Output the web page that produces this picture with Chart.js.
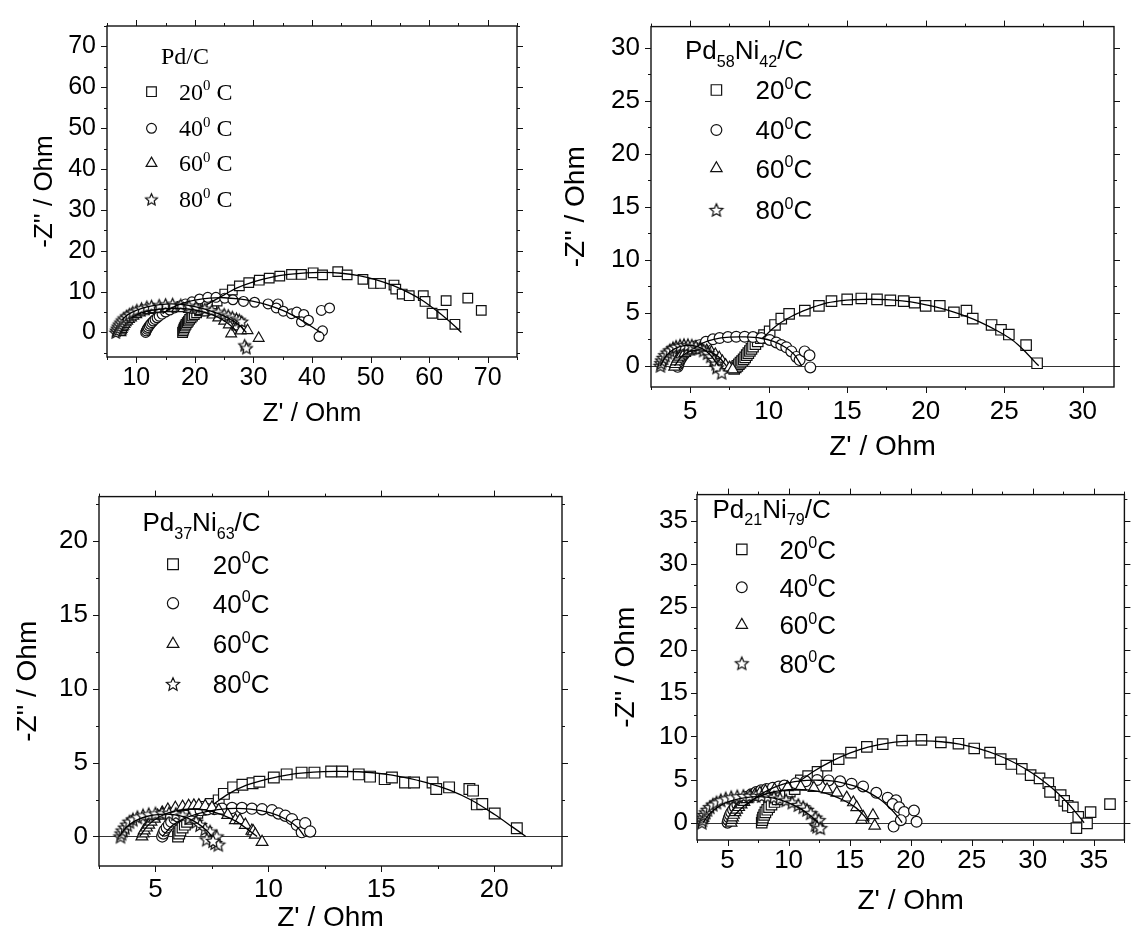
<!DOCTYPE html>
<html>
<head>
<meta charset="utf-8">
<script src="https://cdn.jsdelivr.net/npm/chart.js@4.4.1/dist/chart.umd.min.js"></script>
<style>
  body { margin: 0; background: #fff; width: 1131px; height: 938px; position: relative; overflow: hidden; }
  .panel { position: absolute; }
</style>
</head>
<body>
<div class="panel" style="left:0;top:0"><canvas id="c1" width="540" height="440"></canvas></div>
<div class="panel" style="left:540px;top:0"><canvas id="c2" width="591" height="470"></canvas></div>
<div class="panel" style="left:0;top:470px"><canvas id="c3" width="580" height="468"></canvas></div>
<div class="panel" style="left:570px;top:470px"><canvas id="c4" width="563" height="468"></canvas></div>
<script>
// legend texts
const tempLabels = ['20', '40', '60', '80'];
const xTitle = "Z' / Ohm";
const yTitle = "-Z'' / Ohm";

// tick labels (majors) per panel
const p1XTicks = [10, 20, 30, 40, 50, 60, 70];
const p1YTicks = [0, 10, 20, 30, 40, 50, 60, 70];
const p2XTicks = [5, 10, 15, 20, 25, 30];
const p2YTicks = [0, 5, 10, 15, 20, 25, 30];
const p3XTicks = [5, 10, 15, 20];
const p3YTicks = [0, 5, 10, 15, 20];
const p4XTicks = [5, 10, 15, 20, 25, 30, 35];
const p4YTicks = [0, 5, 10, 15, 20, 25, 30, 35];

// ---- Pd/C ----
const pdC_20 = [[17.9,0],[18.0,0.4],[18.1,0.8],[18.2,1.2],[18.35,1.6],[18.5,2.0],[18.7,2.4],[18.9,2.8],[19.1,3.2],[19.35,3.6],[19.6,4.0],[19.9,4.4],[20.3,4.8],[20.8,5.3],[21.4,5.8],[22.1,6.4],[22.9,7.0],[23.8,7.7],[25.1,9.4],[26.4,10.4],[27.6,11.4],[29.2,12.2],[31.0,12.8],[32.7,13.3],[34.5,13.8],[36.5,14.2],[38.2,14.2],[40.2,14.6],[41.8,14.1],[44.4,14.9],[46.0,14.1],[48.7,13.0],[50.5,12.0],[51.7,12.0],[54.0,11.6],[54.3,10.6],[55.4,9.4],[56.6,9.0],[59.0,9.0],[59.3,7.6],[60.5,4.7],[62.3,4.4],[64.4,2.0],[62.9,7.8],[66.6,8.4],[68.9,5.4]];
const pdC_40 = [[11.6,0],[11.7,0.4],[11.85,0.8],[12.0,1.2],[12.2,1.6],[12.4,2.0],[12.65,2.4],[12.9,2.8],[13.2,3.2],[13.55,3.6],[13.9,4.0],[14.4,4.5],[15.0,5.0],[15.7,5.5],[16.5,6.0],[17.4,6.5],[18.4,7.0],[19.5,7.5],[20.8,8.2],[22.2,8.6],[23.6,8.6],[25.1,8.4],[26.5,8.0],[28.3,7.6],[30.2,7.4],[32.5,7.0],[34.2,7.0],[33.9,6.0],[35.1,5.2],[36.5,4.6],[37.4,5.0],[38.6,4.4],[38.2,2.6],[39.4,3.0],[41.8,0.4],[41.2,-1.0],[41.6,5.4],[43.0,6.0]];
const pdC_60 = [[7.3,0],[7.4,0.4],[7.5,0.8],[7.65,1.2],[7.8,1.6],[8.0,2.0],[8.2,2.4],[8.45,2.8],[8.75,3.2],[9.1,3.6],[9.5,4.0],[10.0,4.4],[10.6,4.8],[11.3,5.1],[12.1,5.4],[13.0,5.6],[14.0,5.75],[15.0,5.85],[16.0,5.9],[17.0,5.9],[18.0,5.85],[19.0,5.7],[20.0,5.5],[21.0,5.2],[22.0,4.8],[23.0,4.3],[24.0,3.6],[25.0,2.8],[25.8,1.9],[26.2,-0.3],[27.2,1.4],[27.8,0.4],[29.0,0.5],[30.9,-1.4]];
const pdC_80 = [[6.5,0],[6.6,0.5],[6.75,1.0],[6.9,1.5],[7.1,2.0],[7.35,2.5],[7.6,3.0],[7.9,3.5],[8.3,4.0],[8.8,4.5],[9.4,5.0],[10.1,5.5],[10.9,5.9],[11.8,6.3],[12.6,6.5],[13.9,6.7],[15.0,6.9],[16.2,7.0],[17.6,6.8],[19.0,6.5],[20.2,6.2],[21.7,5.8],[22.9,5.4],[24.0,5.0],[25.0,4.5],[25.7,4.2],[26.4,3.8],[27.1,3.4],[27.6,3.1],[28.0,2.7],[28.5,-3.1],[28.8,-3.8]];
const pdC_20Fit = [[22,6.8],[23,7.6],[25,9.2],[27,10.8],[30,12.4],[33,13.5],[36,14.2],[39,14.6],[42,14.7],[45,14.5],[48,13.9],[51,12.9],[54,11.4],[57,9.4],[59,7.7],[61,5.6],[63,3.3],[64.5,1.4],[65.5,0]];
const pdC_40Fit = [[14.5,4.6],[16,6.0],[18,7.2],[20,7.9],[22.5,8.4],[25,8.5],[27.5,8.2],[30,7.6],[32.5,6.7],[35,5.4],[37,4.0],[39,2.3],[40.5,0.9],[41.5,0]];
const pdC_60Fit = [[9,3.5],[10.5,4.6],[12.5,5.4],[15,5.85],[17.5,5.9],[20,5.5],[22,4.8],[24,3.7],[25.5,2.4],[26.5,1.2],[27.2,0]];
const pdC_80Fit = [[7.5,3.0],[8.5,4.3],[10,5.4],[12,6.3],[14,6.8],[16,7.0],[18,6.8],[20,6.3],[22,5.6],[24,4.6],[26,3.3],[27.5,1.9],[28.4,0.6],[28.8,0]];

// ---- Pd58Ni42/C ----
const pd58_20 = [[7.8,-0.3],[7.9,-0.15],[8.0,0],[8.1,0.15],[8.2,0.3],[8.3,0.45],[8.4,0.6],[8.5,0.8],[8.6,1.0],[8.7,1.2],[8.8,1.4],[8.9,1.6],[9.0,1.8],[9.15,2.05],[9.3,2.3],[9.5,2.6],[9.7,2.9],[10.06,3.25],[10.4,3.85],[10.8,4.45],[11.3,4.9],[12.3,5.2],[13.2,5.65],[14.0,6.1],[15.0,6.26],[15.9,6.35],[16.9,6.26],[17.75,6.17],[18.6,6.1],[19.3,5.96],[20.0,5.65],[20.9,5.65],[21.8,5.05],[22.6,5.2],[23.0,4.45],[24.2,3.85],[24.8,3.4],[25.3,2.95],[26.4,1.95],[27.1,0.24]];
const pd58_40 = [[4.2,-0.1],[4.25,0.15],[4.3,0.4],[4.4,0.65],[4.5,0.9],[4.6,1.1],[4.75,1.3],[4.9,1.5],[5.1,1.7],[5.35,1.85],[5.6,1.95],[6.0,2.26],[6.45,2.5],[6.87,2.62],[7.4,2.71],[7.93,2.74],[8.47,2.74],[9.0,2.71],[9.53,2.62],[10.06,2.44],[10.48,2.2],[10.8,1.96],[11.12,1.75],[11.44,1.36],[11.76,0.84],[11.97,0.54],[12.29,1.36],[12.6,0.99],[12.65,-0.15]];
const pd58_60 = [[4.0,-0.1],[4.05,0.15],[4.12,0.4],[4.2,0.65],[4.3,0.85],[4.45,1.05],[4.65,1.2],[4.9,1.35],[5.15,1.45],[5.45,1.5],[5.75,1.5],[6.05,1.42],[6.35,1.28],[6.6,1.05],[6.85,0.75],[7.05,0.4],[7.25,0.05],[7.5,-0.2],[7.7,-0.35]];
const pd58_80 = [[3.1,0],[3.15,0.25],[3.2,0.5],[3.3,0.75],[3.4,1.0],[3.55,1.25],[3.7,1.45],[3.9,1.65],[4.1,1.8],[4.35,1.9],[4.6,1.95],[4.85,1.95],[5.1,1.9],[5.35,1.8],[5.6,1.65],[5.85,1.45],[6.1,1.2],[6.3,0.9],[6.5,0.55],[6.65,0.2],[6.7,-0.15],[7.0,-0.65]];
const pd58_20Fit = [[9.6,2.6],[10.5,3.8],[11.5,4.7],[12.5,5.35],[13.5,5.85],[14.5,6.12],[15.5,6.25],[16.5,6.28],[17.5,6.24],[18.5,6.12],[19.5,5.92],[20.5,5.6],[21.5,5.2],[22.5,4.7],[23.5,4.1],[24.5,3.35],[25.5,2.45],[26.3,1.4],[27.0,0.3],[27.2,0]];
const pd58_40Fit = [[5.2,1.6],[5.8,2.15],[6.5,2.5],[7.5,2.7],[8.5,2.72],[9.5,2.6],[10.3,2.3],[11.0,1.8],[11.6,1.1],[12.1,0]];
const pd58_60Fit = [[4.0,0],[4.5,0.95],[5.0,1.35],[5.6,1.5],[6.2,1.35],[6.8,0.85],[7.3,0]];
const pd58_80Fit = [[3.1,0],[3.5,1.0],[4.0,1.6],[4.6,1.9],[5.2,1.9],[5.8,1.6],[6.3,1.0],[6.8,0]];

// ---- Pd37Ni63/C ----
const pd37_20 = [[6.0,0],[6.05,0.2],[6.1,0.4],[6.2,0.6],[6.3,0.8],[6.4,1.0],[6.55,1.2],[6.7,1.4],[6.85,1.6],[7.0,1.8],[7.2,2.0],[7.45,2.2],[7.8,2.44],[8.03,2.88],[8.44,3.32],[8.85,3.5],[9.3,3.6],[9.6,3.7],[10.24,3.99],[10.81,4.2],[11.47,4.32],[12.04,4.32],[12.78,4.39],[13.27,4.39],[14.0,4.2],[14.5,4.05],[15.15,3.88],[15.47,3.99],[16.05,3.65],[16.45,3.65],[17.27,3.65],[17.43,3.21],[18.0,3.32],[18.9,3.21],[19.06,3.1],[19.23,2.17],[19.47,2.19],[20.02,1.55],[21.0,0.55]];
const pd37_40 = [[5.3,0],[5.35,0.2],[5.4,0.4],[5.5,0.6],[5.6,0.8],[5.7,1.0],[5.85,1.2],[6.0,1.35],[6.2,1.5],[6.45,1.6],[6.7,1.7],[7.0,1.78],[7.3,1.84],[7.6,1.86],[7.95,1.88],[8.39,1.93],[8.83,1.93],[9.27,1.88],[9.72,1.84],[10.16,1.77],[10.45,1.55],[10.75,1.4],[11.04,1.17],[11.26,0.78],[11.48,0.29],[11.63,0.89],[11.85,0.33]];
const pd37_60 = [[4.4,0],[4.45,0.2],[4.5,0.4],[4.6,0.6],[4.7,0.8],[4.8,1.0],[4.95,1.2],[5.1,1.4],[5.3,1.6],[5.55,1.8],[5.88,1.92],[6.2,2.0],[6.47,2.06],[6.7,2.08],[6.92,2.1],[7.2,2.05],[7.5,1.95],[7.8,1.75],[8.2,1.45],[8.54,1.1],[8.74,1.1],[8.98,0.78],[9.27,0.38],[9.33,0.33],[9.42,0.11],[9.72,-0.38]];
const pd37_80 = [[3.45,0],[3.5,0.2],[3.55,0.4],[3.65,0.6],[3.75,0.8],[3.85,1.0],[4.0,1.15],[4.2,1.3],[4.45,1.42],[4.7,1.5],[5.0,1.55],[5.3,1.57],[5.6,1.57],[5.9,1.52],[6.2,1.42],[6.5,1.25],[6.8,1.0],[6.97,0.78],[7.2,0.5],[7.42,0.33],[7.27,-0.2],[7.64,-0.44],[7.71,0],[7.78,-0.55],[7.55,-0.3]];
const pd37_20Fit = [[7.6,2.2],[8.2,2.85],[9,3.45],[10,3.9],[11,4.2],[12,4.35],[13,4.4],[14,4.38],[15,4.25],[16,4.0],[17,3.65],[18,3.15],[19,2.45],[20,1.5],[20.8,0.65],[21.4,0]];
const pd37_40Fit = [[5.3,0],[5.8,0.8],[6.5,1.35],[7.3,1.7],[8.2,1.88],[9.2,1.85],[10.1,1.6],[10.8,1.15],[11.3,0.6],[11.6,0]];
const pd37_60Fit = [[4.3,0],[4.7,0.8],[5.2,1.35],[5.8,1.7],[6.5,1.85],[7.2,1.8],[7.9,1.5],[8.6,1.0],[9.1,0.45],[9.5,0]];
const pd37_80Fit = [[3.4,0],[3.7,0.6],[4.1,1.05],[4.6,1.35],[5.2,1.5],[5.8,1.48],[6.4,1.25],[6.9,0.85],[7.3,0.35],[7.5,0]];

// ---- Pd21Ni79/C ----
const pd21_20 = [[7.8,0],[7.85,0.3],[7.9,0.6],[8.0,0.9],[8.1,1.2],[8.25,1.5],[8.4,1.8],[8.6,2.1],[8.85,2.4],[9.1,2.7],[9.4,3.0],[9.75,3.3],[10.1,3.6],[10.5,3.9],[11.0,4.9],[11.6,5.4],[12.37,5.88],[13.09,6.62],[14.1,7.37],[15.11,8.11],[16.41,8.78],[17.71,9.11],[19.29,9.52],[20.88,9.6],[22.47,9.3],[23.91,9.15],[25.2,8.6],[26.5,8.11],[27.37,7.37],[28.24,6.8],[29.1,6.25],[29.82,5.51],[30.55,5.13],[31.27,4.58],[31.41,3.57],[32.28,3.2],[32.57,2.53],[32.86,1.97],[33.28,1.79],[33.72,0.67],[33.57,-0.63],[34.44,-0.07],[34.73,1.23],[36.32,2.16]];
const pd21_40 = [[5.0,0],[5.05,0.3],[5.12,0.6],[5.2,0.9],[5.3,1.2],[5.45,1.5],[5.6,1.8],[5.8,2.1],[6.05,2.4],[6.3,2.7],[6.6,3.0],[6.95,3.3],[7.35,3.55],[7.75,3.75],[8.2,3.9],[8.71,4.05],[9.2,4.2],[9.65,4.3],[10.59,4.57],[11.4,4.8],[12.34,4.95],[13.28,4.9],[14.22,4.8],[15.16,4.52],[16.1,4.2],[17.18,3.46],[18.12,2.9],[18.8,2.6],[18.52,2.16],[19.06,1.79],[19.46,1.23],[20.27,1.41],[18.6,-0.45],[19.19,0.3],[20.48,0.11]];
const pd21_60 = [[5.3,0],[5.35,0.3],[5.42,0.6],[5.5,0.9],[5.62,1.2],[5.75,1.5],[5.92,1.8],[6.12,2.1],[6.35,2.4],[6.6,2.7],[6.9,3.0],[7.25,3.25],[7.65,3.45],[8.1,3.65],[8.85,3.84],[9.92,4.1],[10.99,4.15],[12.07,4.02],[13.15,3.84],[13.95,3.46],[14.76,2.9],[15.3,2.35],[15.57,1.79],[15.97,0.3],[16.11,0.67],[16.91,0.86],[17.05,-0.35]];
const pd21_80 = [[2.9,0],[2.95,0.3],[3.02,0.6],[3.1,0.9],[3.22,1.2],[3.36,1.5],[3.55,1.8],[3.8,2.1],[4.1,2.35],[4.45,2.6],[4.85,2.8],[5.3,2.95],[5.8,3.05],[6.3,3.1],[6.8,3.12],[7.3,3.12],[7.8,3.1],[8.3,3.05],[8.8,2.95],[9.3,2.8],[9.8,2.6],[10.3,2.35],[10.8,2.05],[11.2,1.8],[11.5,1.5],[11.8,1.1],[12.2,0.6],[12.47,0.3],[12.2,-0.26],[12.33,-0.45],[12.6,-0.63]];
const pd21_20Fit = [[10.8,4.7],[12,5.9],[13.5,7.1],[15,8.05],[16.5,8.75],[18,9.2],[19.5,9.42],[21,9.47],[22.5,9.38],[24,9.1],[25.5,8.6],[27,7.9],[28.5,6.95],[30,5.7],[31.5,4.1],[32.5,2.8],[33.4,1.4],[34.2,0]];
const pd21_40Fit = [[6.5,2.0],[7.5,3.1],[8.5,3.9],[9.5,4.45],[10.5,4.75],[11.5,4.9],[12.5,4.92],[13.5,4.85],[14.5,4.6],[15.5,4.2],[16.5,3.55],[17.5,2.7],[18.3,1.7],[19.0,0.6],[19.3,0]];
const pd21_60Fit = [[5.5,0.8],[6.5,2.1],[7.5,3.0],[8.5,3.5],[9.5,3.75],[10.5,3.85],[11.5,3.8],[12.5,3.6],[13.5,3.2],[14.5,2.6],[15.5,1.75],[16.2,0.8],[16.6,0]];
const pd21_80Fit = [[3,0],[3.5,1.0],[4.2,1.8],[5,2.4],[6,2.8],[7,3.0],[8,3.0],[9,2.8],[10,2.3],[11,1.6],[11.8,0.8],[12.4,0]];

const SANS = '"Liberation Sans", Arial, sans-serif';
const SERIF = '"Liberation Serif", "Times New Roman", serif';
const INK = '#111';

function xy(arr) { return arr.map(([x, y]) => ({ x, y })); }

// majors carry a label, minor ticks sit half way between them
function tickList(majors, min, max) {
  const half = (majors[1] - majors[0]) / 2;
  const out = majors.map(v => ({ value: v, lab: true }));
  for (let v = majors[0] - half; v <= max + 1e-9; v += 2 * half) {
    if (v >= min - 1e-9) out.push({ value: v, lab: false });
  }
  return out.sort((a, b) => a.value - b.value);
}

function starImage(R) {
  const s = Math.ceil(R * 2 + 4);
  const c = document.createElement('canvas');
  c.width = s; c.height = s;
  const g = c.getContext('2d');
  g.translate(s / 2, s / 2 + 0.6);
  g.beginPath();
  for (let k = 0; k < 10; k++) {
    const r = k % 2 ? R * 0.46 : R;
    const a = -Math.PI / 2 + k * Math.PI / 5;
    g.lineTo(r * Math.cos(a), r * Math.sin(a));
  }
  g.closePath();
  g.fillStyle = '#fff'; g.fill();
  g.strokeStyle = INK; g.lineWidth = 1.2; g.stroke();
  return c;
}

// text with sub/superscripts
function rich(ctx, parts, x, base, fam, size) {
  parts.forEach(([t, k]) => {
    const fs = k ? size * 0.62 : size;
    const dy = k === 'sup' ? -size * 0.4 : (k === 'sub' ? size * 0.3 : 0);
    ctx.font = fs + 'px ' + fam;
    ctx.fillText(t, x, base + dy);
    x += ctx.measureText(t).width;
  });
}

function framePlugin(p) {
  return {
    id: 'frame',
    beforeDatasetsDraw(chart) {
      if (!p.zero) return;
      const { ctx, chartArea: a, scales: { y } } = chart;
      const py = Math.round(y.getPixelForValue(0)) + 0.5;
      ctx.save();
      ctx.strokeStyle = '#333'; ctx.lineWidth = 1;
      ctx.beginPath(); ctx.moveTo(a.left, py); ctx.lineTo(a.right, py); ctx.stroke();
      ctx.restore();
    },
    afterDatasetsDraw(chart) {
      const { ctx, chartArea: a, scales: { x, y } } = chart;
      ctx.save();
      ctx.strokeStyle = INK;
      ctx.lineWidth = 1;
      ctx.beginPath();
      x.ticks.forEach(t => {
        const px = Math.round(x.getPixelForValue(t.value)) + 0.5;
        const len = t.lab ? 6 : 3;
        ctx.moveTo(px, a.bottom); ctx.lineTo(px, a.bottom + len);
        ctx.moveTo(px, a.top); ctx.lineTo(px, a.top - len);
      });
      y.ticks.forEach(t => {
        const py = Math.round(y.getPixelForValue(t.value)) + 0.5;
        const len = t.lab ? 6 : 3;
        ctx.moveTo(a.left, py); ctx.lineTo(a.left - len, py);
        ctx.moveTo(a.right, py); ctx.lineTo(a.right + len, py);
      });
      ctx.stroke();
      ctx.lineWidth = 1.4;
      ctx.strokeRect(a.left, a.top, a.right - a.left, a.bottom - a.top);
      ctx.restore();
    }
  };
}

function legendPlugin(p, marks) {
  return {
    id: 'lgd',
    afterDraw(chart) {
      const ctx = chart.ctx;
      const L = p.legend;
      ctx.save();
      ctx.fillStyle = '#000';
      ctx.textBaseline = 'alphabetic';
      rich(ctx, L.title, L.titleX, L.titleBase, L.fam, L.size);
      tempLabels.forEach((t, i) => {
        const cy = L.rowY[i];
        ctx.fillStyle = '#fff'; ctx.strokeStyle = INK; ctx.lineWidth = 1.2;
        Chart.helpers.drawPoint(ctx, { pointStyle: marks[i], radius: p.r[i], rotation: 0, borderWidth: 1.2 }, L.symX, cy);
        ctx.fillStyle = '#000';
        const parts = [[t], ['0', 'sup'], [L.sep + 'C']];
        rich(ctx, parts, L.textX, cy + L.size * L.cap / 2, L.fam, L.size);
      });
      ctx.restore();
    }
  };
}

function panel(id, p) {
  const marks = ['rect', 'circle', 'triangle', starImage(p.r[3])];
  const datasets = [];
  p.fits.forEach(f => datasets.push({
    data: xy(f), showLine: true, pointRadius: 0, borderColor: '#000', borderWidth: 1.3, tension: 0.3, order: 0
  }));
  p.series.forEach((s, i) => datasets.push({
    data: xy(s), showLine: false, pointStyle: marks[i], pointRadius: p.r[i],
    pointBackgroundColor: '#fff', pointBorderColor: INK, pointBorderWidth: 1.2, order: 4 - i
  }));
  const tickFont = { family: SANS, size: p.tickSize };
  const titleFont = { family: SANS, size: p.titleSize };
  new Chart(document.getElementById(id), {
    type: 'scatter',
    data: { datasets },
    options: {
      responsive: false,
      animation: false,
      devicePixelRatio: 1,
      events: [],
      layout: { padding: { top: p.padTop, right: p.padRight, left: 0, bottom: 0 } },
      plugins: { legend: { display: false }, tooltip: { enabled: false } },
      scales: {
        x: {
          type: 'linear', position: 'bottom', min: p.xMin, max: p.xMax,
          afterBuildTicks: s => { s.ticks = tickList(p.xTicks, p.xMin, p.xMax); },
          afterFit: s => { s.height = p.xH; },
          grid: { display: false, drawTicks: false },
          border: { display: false },
          ticks: {
            font: tickFont, color: '#000', padding: p.xPad, autoSkip: false, maxRotation: 0,
            callback: (v, i, t) => (t[i].lab ? String(v) : '')
          },
          title: { display: true, text: xTitle, font: titleFont, color: '#000', padding: { top: 0, bottom: p.xTitlePad } }
        },
        y: {
          type: 'linear', position: 'left', min: p.yMin, max: p.yMax,
          afterBuildTicks: s => { s.ticks = tickList(p.yTicks, p.yMin, p.yMax); },
          afterFit: s => { s.width = p.yW; },
          grid: { display: false, drawTicks: false },
          border: { display: false },
          ticks: {
            font: tickFont, color: '#000', padding: p.yPad, autoSkip: false,
            callback: (v, i, t) => (t[i].lab ? String(v) : '')
          },
          title: { display: true, text: yTitle, font: titleFont, color: '#000', padding: { top: p.yTitlePad, bottom: 0 } }
        }
      }
    },
    plugins: [framePlugin(p), legendPlugin(p, marks)]
  });
}

panel('c1', {
  series: [pdC_20, pdC_40, pdC_60, pdC_80], fits: [pdC_20Fit, pdC_40Fit, pdC_60Fit, pdC_80Fit],
  xMin: 5, xMax: 75, yMin: -6, yMax: 75, xTicks: p1XTicks, yTicks: p1YTicks,
  yW: 107, xH: 83, padTop: 24, padRight: 23,
  tickSize: 25, xPad: 6, yPad: 11, titleSize: 26, xTitlePad: 11, yTitlePad: 29,
  r: [6.8, 4.9, 6.2, 6.2], zero: false,
  legend: { fam: SERIF, size: 24, cap: 0.66, sep: ' ', title: [['Pd/C']], titleX: 161, titleBase: 64,
            symX: 151.5, rowY: [91.7, 128.3, 163.3, 199.3], textX: 179 }
});

panel('c2', {
  series: [pd58_20, pd58_40, pd58_60, pd58_80], fits: [pd58_20Fit, pd58_40Fit, pd58_60Fit, pd58_80Fit],
  xMin: 2.5, xMax: 32, yMin: -2, yMax: 32, xTicks: p2XTicks, yTicks: p2YTicks,
  yW: 111, xH: 83, padTop: 10, padRight: 17,
  tickSize: 26, xPad: 9, yPad: 11, titleSize: 28, xTitlePad: 6, yTitlePad: 19,
  r: [7.4, 5.4, 6.6, 6.8], zero: true,
  legend: { fam: SANS, size: 26, cap: 0.716, sep: '', title: [['Pd'], ['58', 'sub'], ['Ni'], ['42', 'sub'], ['/C']],
            titleX: 145, titleBase: 59.3, symX: 176.4, rowY: [90, 130, 168.3, 210], textX: 215.6 }
});

panel('c3', {
  series: [pd37_20, pd37_40, pd37_60, pd37_80], fits: [pd37_20Fit, pd37_40Fit, pd37_60Fit, pd37_80Fit],
  xMin: 2.5, xMax: 23, yMin: -2, yMax: 23, xTicks: p3XTicks, yTicks: p3YTicks,
  yW: 99, xH: 72, padTop: 19, padRight: 18,
  tickSize: 26, xPad: 8, yPad: 11, titleSize: 28, xTitlePad: 3, yTitlePad: 11,
  r: [7.6, 5.6, 6.8, 6.9], zero: true,
  legend: { fam: SANS, size: 26, cap: 0.716, sep: '', title: [['Pd'], ['37', 'sub'], ['Ni'], ['63', 'sub'], ['/C']],
            titleX: 142.4, titleBase: 61, symX: 173, rowY: [94.3, 133.3, 174, 214], textX: 212.8 }
});

panel('c4', {
  series: [pd21_20, pd21_40, pd21_60, pd21_80], fits: [pd21_20Fit, pd21_40Fit, pd21_60Fit, pd21_80Fit],
  xMin: 2.5, xMax: 37.5, yMin: -2, yMax: 38, xTicks: p4XTicks, yTicks: p4YTicks,
  yW: 127, xH: 98, padTop: 13, padRight: 1,
  tickSize: 26, xPad: 5, yPad: 9, titleSize: 28, xTitlePad: 20, yTitlePad: 39,
  r: [7.4, 5.4, 6.6, 6.8], zero: true,
  legend: { fam: SANS, size: 26, cap: 0.716, sep: '', title: [['Pd'], ['21', 'sub'], ['Ni'], ['79', 'sub'], ['/C']],
            titleX: 142.5, titleBase: 47.6, symX: 171.8, rowY: [79.3, 117.3, 155, 193.3], textX: 209.4 }
});
</script>
</body>
</html>
